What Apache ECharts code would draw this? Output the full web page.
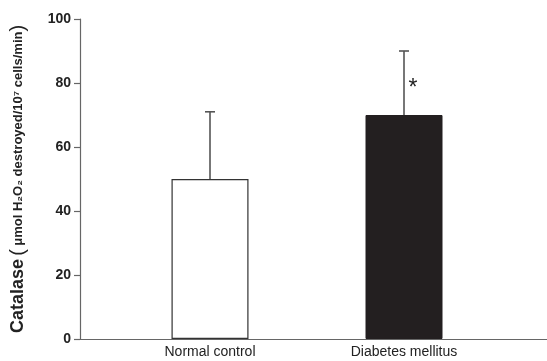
<!DOCTYPE html>
<html><head><meta charset="utf-8">
<script src="https://cdn.jsdelivr.net/npm/echarts@6/dist/echarts.min.js"></script>
<style>html,body{margin:0;padding:0;background:#fff}#c{width:547px;height:361px}</style>
</head><body><div id="c"></div>
<script>
const categories = ['Normal control', 'Diabetes mellitus'];
const means = [50, 70];
const sdUpper = [71, 90];
const significance = ['', '*'];
const yTicks = [0, 20, 40, 60, 80, 100];

const chart = echarts.init(document.getElementById('c'));
const font = 'Liberation Sans, Arial, sans-serif';
chart.setOption({
  animation: false,
  grid: [
    {left: 77, right: 0, top: 19, bottom: 22},
    {left: 113, width: 388, top: 19, bottom: 22}
  ],
  xAxis: [
    {gridIndex: 0, type: 'category', data: [''], axisLine: {lineStyle: {color: '#666', width: 1.2}},
     axisTick: {show: false}, axisLabel: {show: false}},
    {gridIndex: 1, type: 'category', data: categories, axisLine: {show: false}, axisTick: {show: false},
     axisLabel: {margin: 6, fontFamily: font, fontSize: 14, color: '#222'}}
  ],
  yAxis: [
    {gridIndex: 0, type: 'value', min: yTicks[0], max: yTicks[yTicks.length-1], interval: 20,
     splitLine: {show: false},
     axisLine: {show: true, lineStyle: {color: '#666', width: 1.2}},
     axisTick: {show: true, length: 6, lineStyle: {color: '#666', width: 1.2}},
     axisLabel: {margin: 9, fontFamily: font, fontSize: 14, fontWeight: 'bold', color: '#222'},
     name: '{a|Catalase} {p|(} {b|μmol H₂O₂ destroyed/10⁷ cells/min}{p|)}',
     nameLocation: 'middle', nameRotate: 90, nameGap: 52,
     nameTextStyle: {rich: {
       a: {fontFamily: font, fontSize: 18, fontWeight: 'bold', color: '#222'},
       p: {fontFamily: font, fontSize: 20, color: '#222'},
       b: {fontFamily: font, fontSize: 13, fontWeight: 'bold', color: '#222'}
     }}},
    {gridIndex: 1, type: 'value', min: 0, max: 100, show: false}
  ],
  series: [
    {type: 'bar', xAxisIndex: 1, yAxisIndex: 1, barWidth: 77,
     data: means.map((v, i) => ({value: v, itemStyle: i === 0
       ? {color: '#fff', borderColor: '#333', borderWidth: 1.2}
       : {color: '#231f20', borderColor: '#231f20', borderWidth: 1}}))},
    {type: 'custom', xAxisIndex: 1, yAxisIndex: 1, z: 1,
     data: categories.map((c, i) => [i, means[i], sdUpper[i]]),
     renderItem: function (params, api) {
       const i = api.value(0);
       const base = api.coord([i, api.value(1)]);
       const top = api.coord([i, api.value(2)]);
       const children = [
         {type: 'line', shape: {x1: base[0], y1: base[1], x2: top[0], y2: top[1]}, style: {stroke: '#555', lineWidth: 1.6}},
         {type: 'line', shape: {x1: top[0]-5, y1: top[1], x2: top[0]+5, y2: top[1]}, style: {stroke: '#555', lineWidth: 1.6}}
       ];
       if (significance[i]) {
         const mid = api.coord([i, (api.value(1) + api.value(2)) / 2]);
         children.push({type: 'text', x: mid[0] + 9, y: mid[1] + 6, style: {text: significance[i], fontFamily: font, fontSize: 23, fill: '#222', textAlign: 'center', textVerticalAlign: 'middle'}});
       }
       return {type: 'group', children: children};
     }}
  ]
});
</script></body></html>
